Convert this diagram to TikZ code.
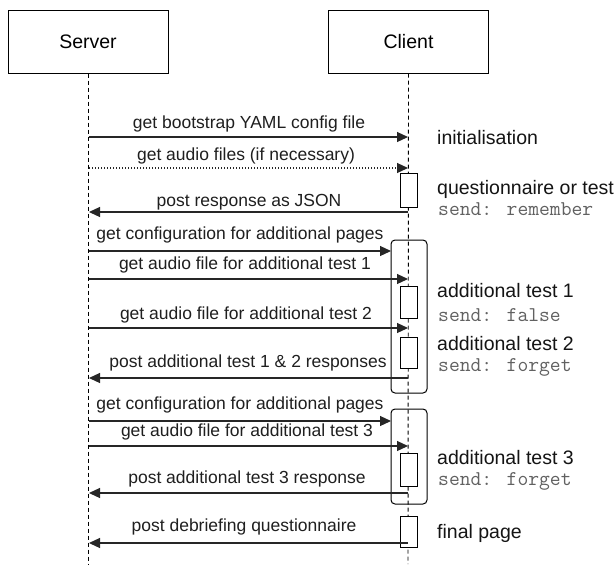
\documentclass[tikz,border=0pt]{standalone}
\usepackage{fontspec}
\setmainfont{Liberation Sans}
\usetikzlibrary{arrows.meta}
\begin{document}
\begin{tikzpicture}[x=1pt,y=-1pt,
 msg/.style={draw=black!85, line width=1.2pt, -{Triangle[length=11pt,width=10pt]}},
 dotmsg/.style={msg, dash pattern=on 1.2pt off 1.8pt},
 lbl/.style={font=\fontsize{17.5}{20}\selectfont, text=black!88, inner sep=0pt},
 side/.style={font=\fontsize{19.5}{22}\selectfont, text=black!92, anchor=west, inner sep=0pt},
 code/.style={font=\ttfamily\fontsize{21}{24}\selectfont, text=black!62, anchor=west, inner sep=0pt},
 actor/.style={draw, line width=1pt, minimum width=160pt, minimum height=63pt, inner sep=0pt, font=\fontsize{19.5}{22}\selectfont},
 actbox/.style={draw, line width=1pt, fill=white},
 grp/.style={draw, line width=1pt, rounded corners=4pt},
 life/.style={draw, line width=0.9pt, dash pattern=on 4pt off 3pt}]
\fill[white] (0,0) rectangle (615,565);
\useasboundingbox (0,0) rectangle (615,565);
% actors
\node[actor] (server) at (88,41.5) {Server};
\node[actor] (client) at (408.5,41.5) {Client};
\coordinate (sEnd) at (88,564);
\coordinate (cEnd) at (408,564);
\draw[life] (server.south) -- (sEnd);
\draw[life] (client.south) -- (cEnd);
% groups
\draw[grp] (391,240) rectangle (427,393);
\draw[grp] (391,409) rectangle (427,504);
% activation boxes
\draw[actbox] (400,173) rectangle (417,207);
\draw[actbox] (400,286) rectangle (417,318);
\draw[actbox] (400,337) rectangle (417,368);
\draw[actbox] (400,453) rectangle (417,486);
\draw[actbox] (400,516) rectangle (417,547);
% messages endpoints
\foreach \n/\y in {1/137,2/168,3/212,4/251,5/279,6/328,7/378,8/421,9/446,10/493,11/543}{
  \coordinate (s\n) at (89,\y);
  \coordinate (c\n) at (408,\y);
}
\coordinate (e4) at (391,251);
\coordinate (e8) at (391,421);
\draw[msg] (s1) -- (c1);
\draw[dotmsg] (s2) -- (c2);
\draw[msg] (c3) -- (s3);
\draw[msg] (s4) -- (e4);
\draw[msg] (s5) -- (c5);
\draw[msg] (s6) -- (c6);
\draw[msg] (c7) -- (s7);
\draw[msg] (s8) -- (e8);
\draw[msg] (s9) -- (c9);
\draw[msg] (c10) -- (s10);
\draw[msg] (c11) -- (s11);
% message labels
\node[lbl] (l1) at (249,124) {get bootstrap YAML config file};
\node[lbl] (l2) at (246,156) {get audio files (if necessary)};
\node[lbl] (l3) at (249,202) {post response as JSON};
\node[lbl] (l4) at (240,235) {get configuration for additional pages};
\node[lbl] (l5) at (245,265) {get audio file for additional test 1};
\node[lbl] (l6) at (246,315) {get audio file for additional test 2};
\node[lbl] (l7) at (248,363) {post additional test 1 \& 2 responses};
\node[lbl] (l8) at (240,405) {get configuration for additional pages};
\node[lbl] (l9) at (247,432) {get audio file for additional test 3};
\node[lbl] (l10) at (247,479) {post additional test 3 response};
\node[lbl] (l11) at (244,527) {post debriefing questionnaire};
% side notes
\node[side] (n1) at (437,138) {initialisation};
\node[side] (n2) at (437,189) {questionnaire or test};
\node[code] (n3) at (438,209) {send: remember};
\node[side] (n4) at (437,291) {additional test 1};
\node[code] (n5) at (438,315) {send: false};
\node[side] (n6) at (437,344) {additional test 2};
\node[code] (n7) at (438,367) {send: forget};
\node[side] (n8) at (437,458) {additional test 3};
\node[code] (n9) at (438,481) {send: forget};
\node[side] (n10) at (437,533) {final page};
\end{tikzpicture}
\end{document}
